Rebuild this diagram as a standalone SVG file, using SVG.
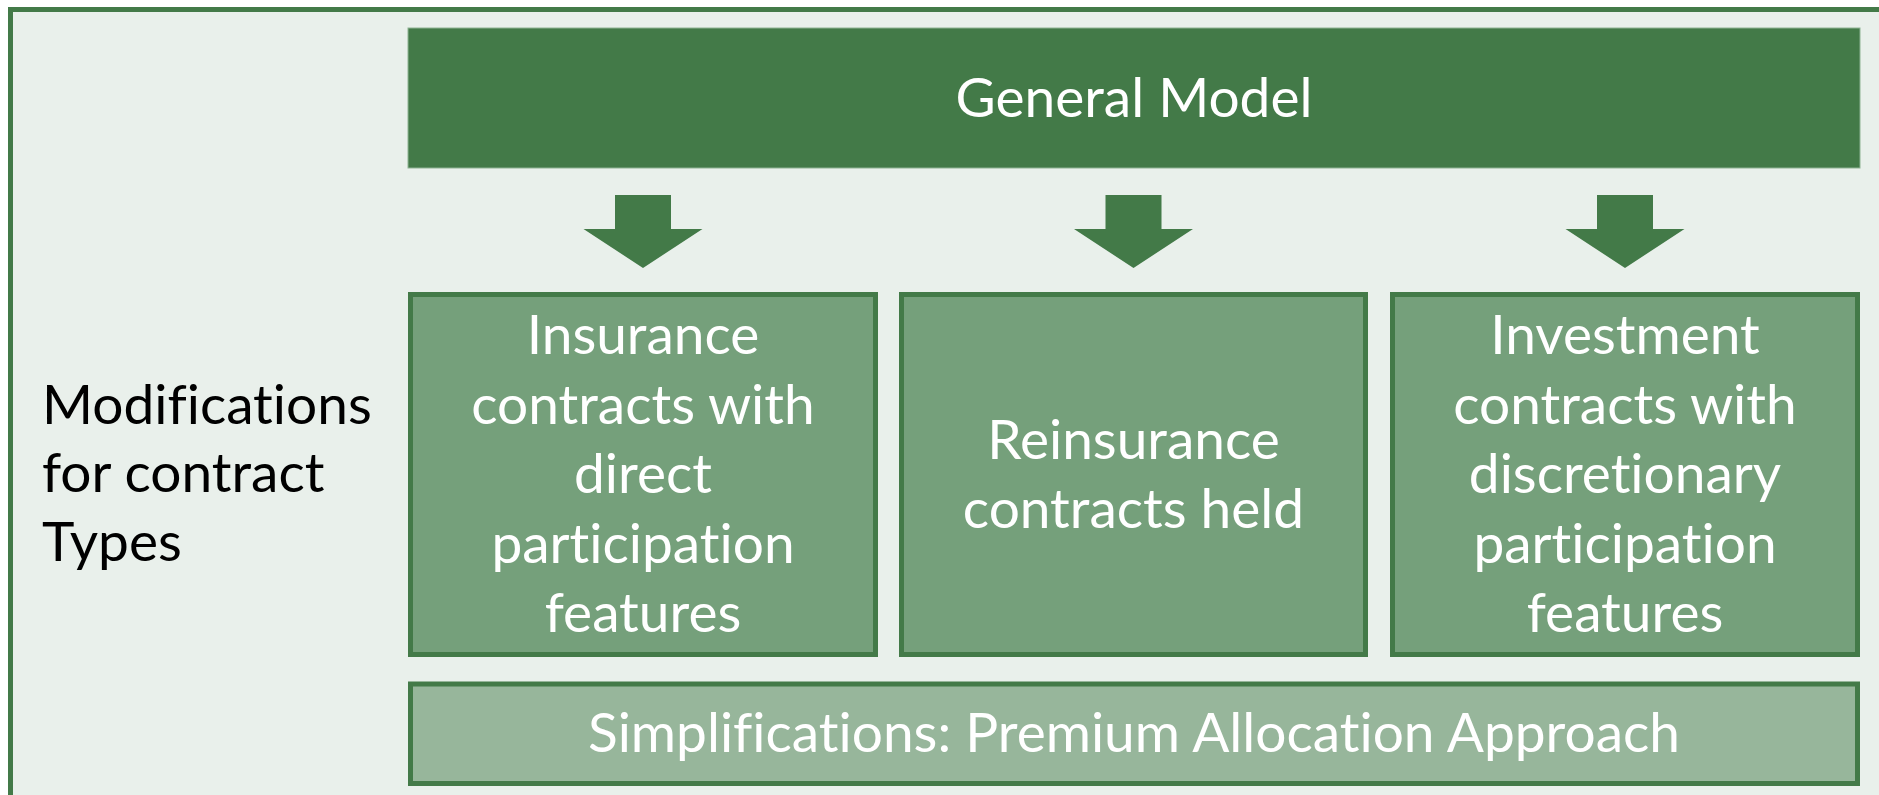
<svg xmlns="http://www.w3.org/2000/svg" xmlns:xlink="http://www.w3.org/1999/xlink" width="1879" height="795" viewBox="0 0 1879 795">
  <style>
    .t { font-family: Lato, "Liberation Sans", sans-serif; font-size: 55px; font-variant-ligatures: none; font-feature-settings: "liga" 0, "dlig" 0; }
    .w { fill: #ffffff; text-anchor: middle; }
    .k { fill: #000000; }
    .mid { fill: #75A07B; stroke: #437A48; stroke-width: 5; }
    .low { fill: #97B69B; stroke: #437A48; stroke-width: 5; }
    .arrow { fill: #437A48; }
  </style>
  <defs>
    <polygon id="arr" class="arrow" points="-28,195 28,195 28,229 59.5,229 0,268 -59.5,229 -28,229"/>
  </defs>
  <rect x="0" y="0" width="1879" height="795" fill="#ffffff"/>
  <rect id="frame" x="10.5" y="9.5" width="1871" height="800" fill="#E9F0EB" stroke="#437A48" stroke-width="5"/>

  <g id="general-model">
    <rect x="408" y="28" width="1452" height="140" fill="#437A48" stroke="#8FB394" stroke-width="1"/>
    <text class="t w" x="1134" y="117">General Model</text>
  </g>

  <g id="connectors">
    <use xlink:href="#arr" transform="translate(643,0)"/>
    <use xlink:href="#arr" transform="translate(1133.5,0)"/>
    <use xlink:href="#arr" transform="translate(1625,0)"/>
  </g>

  <g id="label-modifications">
    <text class="t k" x="42" y="424">Modifications</text>
    <text class="t k" x="42" y="492">for contract</text>
    <text class="t k" x="42" y="561">Types</text>
  </g>

  <g id="insurance-direct">
    <rect class="mid" x="410.5" y="294.5" width="465" height="360"/>
    <text class="t w" x="643" y="354">Insurance</text>
    <text class="t w" x="643" y="423.5">contracts with</text>
    <text class="t w" x="643" y="493">direct</text>
    <text class="t w" x="643" y="562.5">participation</text>
    <text class="t w" x="643" y="632">features</text>
  </g>

  <g id="reinsurance">
    <rect class="mid" x="901.5" y="294.5" width="464" height="360"/>
    <text class="t w" x="1133.5" y="459">Reinsurance</text>
    <text class="t w" x="1133.5" y="528">contracts held</text>
  </g>

  <g id="investment-discretionary">
    <rect class="mid" x="1392.5" y="294.5" width="465" height="360"/>
    <text class="t w" x="1625" y="354">Investment</text>
    <text class="t w" x="1625" y="423.5">contracts with</text>
    <text class="t w" x="1625" y="493">discretionary</text>
    <text class="t w" x="1625" y="562.5">participation</text>
    <text class="t w" x="1625" y="632">features</text>
  </g>

  <g id="simplifications">
    <rect class="low" x="410.5" y="684" width="1447" height="99.5"/>
    <text class="t w" x="1134" y="752">Simplifications: Premium Allocation Approach</text>
  </g>
</svg>
